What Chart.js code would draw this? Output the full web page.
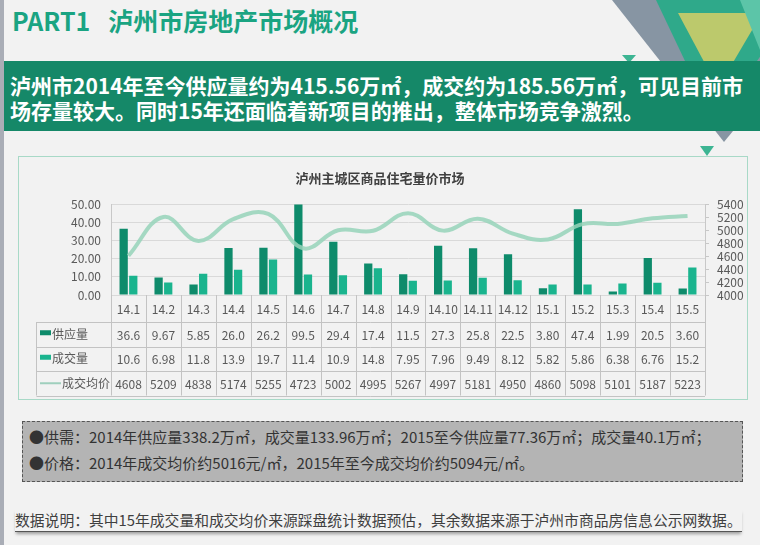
<!DOCTYPE html>
<html lang="zh">
<head>
<meta charset="utf-8">
<script src="https://cdn.jsdelivr.net/npm/chart.js@4"></script>
<style>
  body { margin: 0; }
  .slide {
    position: relative; width: 760px; height: 545px; overflow: hidden;
    background: #f2f2f2; font-family: 'Noto Sans CJK SC', sans-serif;
  }
  .edge { position: absolute; left: 0; top: 0; width: 4px; height: 545px; background: #a9adb6; }
  .deco { position: absolute; left: 0; top: 0; }
  .title {
    position: absolute; left: 12px; top: 4px; line-height: 32px;
    font-size: 25px; font-weight: bold; color: #1aa482; white-space: nowrap;
  }
  .title span { margin-left: 18px; }
  .banner {
    position: absolute; left: 4px; top: 61px; width: 756px; height: 70px;
    background: #158868; color: #fff; font-weight: bold; font-size: 21px;
    line-height: 25px; box-sizing: border-box; padding: 12px 0 0 6px; white-space: nowrap;
  }
  .box {
    position: absolute; left: 18px; top: 156px; width: 730px; height: 244px;
    border: 1px solid #a8d9c7; box-sizing: border-box;
  }
  .wrap { position: absolute; left: 0; top: 150px; width: 760px; height: 255px; }
  .note {
    position: absolute; left: 22px; top: 421px; width: 721px; height: 61px;
    background: #b4b4b4; border: 1px dashed #555; box-sizing: border-box;
    font-size: 15px; color: #333; line-height: 26px; padding: 2px 0 0 6px; white-space: nowrap;
  }
  .foot {
    position: absolute; left: 15px; top: 509px; font-size: 14.8px; color: #404040;
    line-height: 22px; white-space: nowrap; border-bottom: 1px solid #555;
    box-shadow: 0 3px 3px -1px rgba(0,0,0,0.35);
  }
</style>
</head>
<body>
<div class="slide">
  <svg class="deco" width="760" height="160">
    <polygon points="612,0 840,0 724,142" fill="#8795a3"/>
    <polygon points="656,0 800,0 714,122" fill="#2fa98a"/>
    <polygon points="678,13 762,13 718,88" fill="#bcc96c"/>
    <polygon points="740,0 760,0 760,50" fill="#5cc5a8"/>
    <polygon points="622,55 636,55 629,63" fill="#3db593"/>
    <polygon points="700,146 714,146 707,156" fill="#3db593"/>
  </svg>
  <div class="edge"></div>
  <div class="title">PART1<span>泸州市房地产市场概况</span></div>
  <div class="banner">泸州市2014年至今供应量约为415.56万㎡，成交约为185.56万㎡，可见目前市<br>场存量较大。同时15年还面临着新项目的推出，整体市场竞争激烈。</div>
  <div class="box"></div>
  <div class="wrap"><canvas id="mixChart"></canvas></div>
  <div class="note">●供需：2014年供应量338.2万㎡，成交量133.96万㎡；2015至今供应量77.36万㎡；成交量40.1万㎡；<br>●价格：2014年成交均价约5016元/㎡，2015年至今成交均价约5094元/㎡。</div>
  <div class="foot">数据说明：其中15年成交量和成交均价来源踩盘统计数据预估，其余数据来源于泸州市商品房信息公示网数据。</div>
</div>
<script>
const categories = ['14.1', '14.2', '14.3', '14.4', '14.5', '14.6', '14.7', '14.8', '14.9',
  '14.10', '14.11', '14.12', '15.1', '15.2', '15.3', '15.4', '15.5'];
const supply = [36.6, 9.67, 5.85, 26.0, 26.2, 99.5, 29.4, 17.4, 11.5, 27.3, 25.8, 22.5, 3.80, 47.4, 1.99, 20.5, 3.60];
const deals = [10.6, 6.98, 11.8, 13.9, 19.7, 11.4, 10.9, 14.8, 7.95, 7.96, 9.49, 8.12, 5.82, 5.86, 6.38, 6.76, 15.2];
const prices = [4608, 5209, 4838, 5174, 5255, 4723, 5002, 4995, 5267, 4997, 5181, 4950, 4860, 5098, 5101, 5187, 5223];
const volumeTicks = [0, 10, 20, 30, 40, 50];
const priceTicks = [4000, 4200, 4400, 4600, 4800, 5000, 5200, 5400];

const supplyColor = '#0e8b6b';
const dealColor = '#1ab48e';
const priceColor = 'rgba(150, 211, 186, 0.85)';
const textColor = '#595959';
const lineColor = '#c3c3c3';

Chart.defaults.font.family = "'Noto Sans CJK SC', sans-serif";

// 图表下方的数据表
const dataTable = {
  id: 'dataTable',
  afterDraw(chart) {
    const { ctx, chartArea } = chart;
    const x = chart.scales.x;
    const colW = (chartArea.right - chartArea.left) / categories.length;
    const top = chartArea.bottom;
    const headH = 27;
    const rowH = 24.5;
    const tableLeft = 36.5;
    const bottom = top + headH + rowH * 3;
    const rows = [
      { label: '供应量', values: supply.map((v) => v.toPrecision(3)), key: 'bar', color: supplyColor },
      { label: '成交量', values: deals.map((v) => v.toPrecision(3)), key: 'bar', color: dealColor },
      { label: '成交均价', values: prices.map((v) => String(v)), key: 'line', color: '#9fcfbd' },
    ];

    ctx.save();
    ctx.strokeStyle = lineColor;
    ctx.lineWidth = 1;
    ctx.beginPath();
    for (let i = 0; i <= categories.length; i++) {
      const bx = Math.round(chartArea.left + i * colW) + 0.5;
      ctx.moveTo(bx, top);
      ctx.lineTo(bx, bottom);
    }
    ctx.moveTo(tableLeft, top + headH);
    ctx.lineTo(tableLeft, bottom);
    for (let r = 0; r <= 3; r++) {
      const y = Math.round(top + headH + r * rowH) + 0.5;
      ctx.moveTo(tableLeft, y);
      ctx.lineTo(chartArea.right, y);
    }
    ctx.stroke();

    ctx.fillStyle = textColor;
    ctx.font = "12px 'Noto Sans CJK SC', sans-serif";
    ctx.textAlign = 'center';
    ctx.textBaseline = 'middle';
    categories.forEach((c, i) => {
      ctx.fillText(c, x.getPixelForValue(i), top + headH / 2 + 1);
    });

    rows.forEach((row, r) => {
      const cy = top + headH + rowH * r + rowH / 2;
      if (row.key === 'bar') {
        ctx.fillStyle = row.color;
        ctx.fillRect(40, cy - 4, 11, 5);
      } else {
        ctx.strokeStyle = row.color;
        ctx.lineWidth = 2;
        ctx.beginPath();
        ctx.moveTo(40, cy);
        ctx.lineTo(61, cy);
        ctx.stroke();
      }
      ctx.fillStyle = textColor;
      ctx.textAlign = 'left';
      ctx.fillText(row.label, row.key === 'bar' ? 52 : 62, cy);
      ctx.textAlign = 'center';
      row.values.forEach((v, i) => {
        ctx.fillText(v, x.getPixelForValue(i), cy + 1);
      });
    });
    ctx.restore();
  },
};

new Chart(document.getElementById('mixChart'), {
  data: {
    labels: categories,
    datasets: [
      {
        type: 'line',
        label: '成交均价',
        data: prices,
        yAxisID: 'y1',
        borderColor: priceColor,
        borderWidth: 4,
        pointRadius: 0,
        tension: 0.4,
        order: 0,
      },
      {
        type: 'bar',
        label: '供应量',
        data: supply,
        yAxisID: 'y',
        backgroundColor: supplyColor,
        categoryPercentage: 0.55,
        barPercentage: 0.86,
        order: 1,
      },
      {
        type: 'bar',
        label: '成交量',
        data: deals,
        yAxisID: 'y',
        backgroundColor: dealColor,
        categoryPercentage: 0.55,
        barPercentage: 0.86,
        order: 1,
      },
    ],
  },
  options: {
    responsive: true,
    maintainAspectRatio: false,
    animation: false,
    layout: { padding: { top: 0, right: 0, bottom: 110, left: 0 } },
    plugins: {
      legend: { display: false },
      tooltip: { enabled: false },
      title: {
        display: true,
        text: '泸州主城区商品住宅量价市场',
        color: '#404040',
        font: { size: 13, weight: 'bold' },
        padding: { top: 20, bottom: 19 },
      },
    },
    scales: {
      x: {
        type: 'category',
        offset: true,
        display: false,
      },
      y: {
        position: 'left',
        min: volumeTicks[0],
        max: volumeTicks[volumeTicks.length - 1],
        afterBuildTicks: (scale) => { scale.ticks = volumeTicks.map((v) => ({ value: v })); },
        afterFit: (scale) => { scale.width = 111; },
        ticks: {
          color: textColor,
          font: { size: 12 },
          padding: 10,
          autoSkip: false,
          callback: (v) => Number(v).toFixed(2),
        },
        grid: { color: '#d9d9d9', drawTicks: false },
        border: { color: '#c8c8c8' },
      },
      y1: {
        position: 'right',
        min: priceTicks[0],
        max: priceTicks[priceTicks.length - 1],
        afterBuildTicks: (scale) => { scale.ticks = priceTicks.map((v) => ({ value: v })); },
        afterFit: (scale) => { scale.width = 55; },
        ticks: {
          color: textColor,
          font: { size: 12 },
          padding: 8,
          autoSkip: false,
          callback: (v) => String(v),
        },
        grid: { drawOnChartArea: false, tickLength: 4, color: '#c8c8c8' },
        border: { color: '#c8c8c8' },
      },
    },
  },
  plugins: [dataTable],
});
</script>
</body>
</html>
